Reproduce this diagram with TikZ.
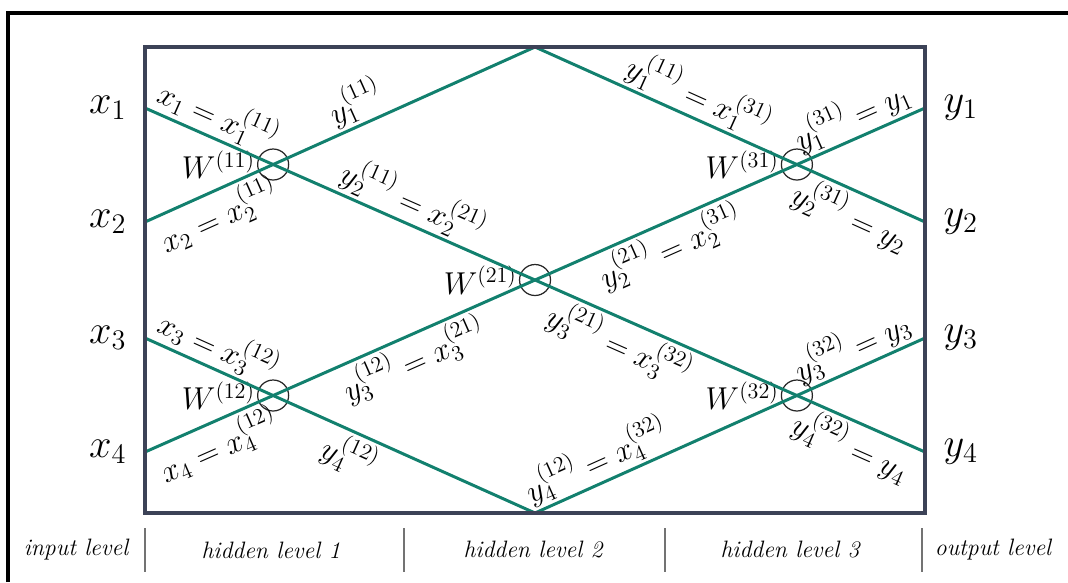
\documentclass[tikz,border=0pt]{standalone}
\usepackage{fix-cm}
\usetikzlibrary{positioning}

\definecolor{wireteal}{RGB}{18,128,110}
\definecolor{framegray}{RGB}{60,66,87}

\begin{document}
\begin{tikzpicture}[x=0.02cm, y=-0.02cm,
	wire/.style={draw=wireteal, line width=1.7pt},
	neuron/.style={circle, draw=black!85, line width=0.7pt, minimum size=0.62cm, inner sep=0pt},
	lbl/.style={font=\fontsize{18}{20}\selectfont, inner sep=1.5pt, sloped},
	wlbl/.style={font=\fontsize{18}{20}\selectfont, inner sep=1pt},
	io/.style={font=\fontsize{23}{25}\selectfont},
	lvl/.style={font=\fontsize{13.5}{15}\selectfont\itshape},
	sep/.style={draw=black!55, line width=0.6pt}]
	\useasboundingbox (0,0) rectangle (1068,582);
	% outer frame
	\draw[line width=2.3pt] (8,582) -- (8,13) -- (1068,13);
	% ports and turning points
	\coordinate (in1) at (145,108);
	\coordinate (in2) at (145,222);
	\coordinate (in3) at (145,338);
	\coordinate (in4) at (145,452);
	\coordinate (out1) at (925,108);
	\coordinate (out2) at (925,222);
	\coordinate (out3) at (925,338);
	\coordinate (out4) at (925,452);
	\coordinate (top) at (535,47);
	\coordinate (bot) at (535,513);
	% weight nodes
	\node[neuron] (w11) at (intersection of in1--out4 and in2--top) {};
	\node[neuron] (w12) at (intersection of in4--out1 and in3--bot) {};
	\node[neuron] (w21) at (intersection of in1--out4 and in4--out1) {};
	\node[neuron] (w31) at (intersection of in4--out1 and top--out2) {};
	\node[neuron] (w32) at (intersection of in1--out4 and bot--out3) {};
	\node[wlbl, left=0pt of w11] {$W^{(11)}$};
	\node[wlbl, left=0pt of w12] {$W^{(12)}$};
	\node[wlbl, left=0pt of w21] {$W^{(21)}$};
	\node[wlbl, left=0pt of w31] {$W^{(31)}$};
	\node[wlbl, left=0pt of w32] {$W^{(32)}$};
	% wires
	\draw[wire] (in1) -- node[lbl, above] {$x_1 = x_1^{(11)}$} (w11.center)
		-- node[lbl, above] {$y_2^{(11)} = x_2^{(21)}$} (w21.center)
		-- node[lbl, below, pos=0.36] {$y_3^{(21)} = x_3^{(32)}$} (w32.center)
		-- node[lbl, below] {$y_4^{(32)} = y_4$} (out4);
	\draw[wire] (in4) -- node[lbl, below] {$x_4 = x_4^{(12)}$} (w12.center)
		-- node[lbl, below] {$y_3^{(12)} = x_3^{(21)}$} (w21.center)
		-- node[lbl, below, pos=0.48] {$y_2^{(21)} = x_2^{(31)}$} (w31.center)
		-- node[lbl, above] {$y_1^{(31)} = y_1$} (out1);
	\draw[wire] (in2) -- node[lbl, below] {$x_2 = x_2^{(11)}$} (w11.center)
		-- node[lbl, above, pos=0.35] {$y_1^{(11)}$} (top)
		-- node[lbl, above, pos=0.59] {$y_1^{(11)} = x_1^{(31)}$} (w31.center)
		-- node[lbl, below] {$y_2^{(31)} = y_2$} (out2);
	\draw[wire] (in3) -- node[lbl, above] {$x_3 = x_3^{(12)}$} (w12.center)
		-- node[lbl, below, pos=0.33] {$y_4^{(12)}$} (bot)
		-- node[lbl, above, pos=0.27] {$y_4^{(12)} = x_4^{(32)}$} (w32.center)
		-- node[lbl, above] {$y_3^{(32)} = y_3$} (out3);
	% box
	\draw[draw=framegray, line width=2.8pt] (145,47) rectangle (925,513);
	% inputs and outputs
	\foreach \i in {1,...,4} {
		\node[io, left=0.25cm of in\i] (xl\i) {$x_\i$};
		\node[io, right=0.25cm of out\i] (yl\i) {$y_\i$};
	}
	% levels
	\foreach \sx in {145,404,665,922}
		\draw[sep] (\sx,528) -- (\sx,572);
	\node[lvl] (lvin) at (76,550) {input level};
	\node[lvl] (lvh1) at (271,550) {hidden level 1};
	\node[lvl] (lvh2) at (533,550) {hidden level 2};
	\node[lvl] (lvh3) at (790,550) {hidden level 3};
	\node[lvl] (lvout) at (993,550) {output level};
\end{tikzpicture}
\end{document}
